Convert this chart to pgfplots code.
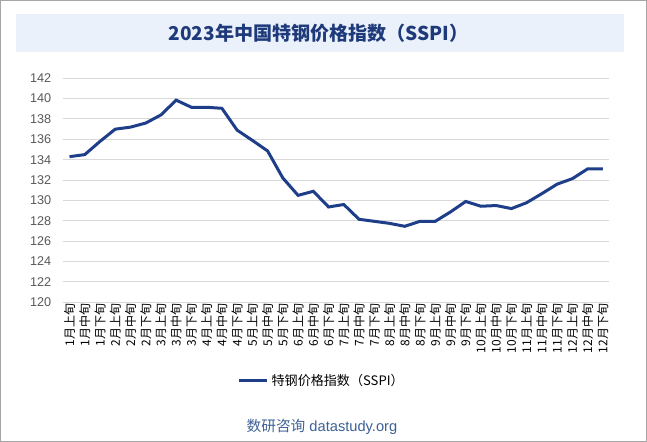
\documentclass[border=0pt]{standalone}
\usepackage{fontspec}
\setmainfont{Liberation Sans}
\newfontfamily\cjk{Noto Sans CJK SC}
\usepackage{pgfplots}
\pgfplotsset{compat=1.18}
\definecolor{linecol}{RGB}{31,62,138}
\definecolor{titlecol}{RGB}{31,58,122}
\definecolor{titlebg}{RGB}{234,241,251}
\definecolor{footcol}{RGB}{62,98,150}
\definecolor{gridcol}{RGB}{217,217,217}
\definecolor{tickcol}{RGB}{89,89,89}
\begin{document}
\begin{tikzpicture}
\path[use as bounding box] (0,0) rectangle (485.25pt,331.5pt);
\fill[white] (0,0) rectangle (485.25pt,331.5pt);
\draw[gray!70, line width=0.75pt] (0.375pt,0.375pt) rectangle (484.875pt,331.125pt);
\fill[titlebg] (12pt,292.5pt) rectangle (468pt,321pt);
\node[text=titlecol, font=\cjk\bfseries\fontsize{14.3pt}{16pt}\selectfont] at (239pt,306.75pt) {2023年中国特钢价格指数（SSPI）};
\node[text=footcol, font=\fontsize{11pt}{13pt}\selectfont] at (241.5pt,11.5pt) {{\cjk 数研咨询} datastudy.org};
\begin{axis}[
  at={(47pt,104.8pt)}, anchor=south west,
  scale only axis, width=409.7pt, height=168pt,
  xmin=-0.45, xmax=35.4, ymin=120, ymax=142,
  ytick={120,122,...,142},
  xtick={0,...,35},
  xticklabels={1月上旬,1月中旬,1月下旬,2月上旬,2月中旬,2月下旬,3月上旬,3月中旬,3月下旬,4月上旬,4月中旬,4月下旬,5月上旬,5月中旬,5月下旬,6月上旬,6月中旬,6月下旬,7月上旬,7月中旬,7月下旬,8月上旬,8月中旬,8月下旬,9月上旬,9月中旬,9月下旬,10月上旬,10月中旬,10月下旬,11月上旬,11月中旬,11月下旬,12月上旬,12月中旬,12月下旬},
  xticklabel style={rotate=90, anchor=east, font=\cjk\fontsize{9pt}{10pt}\selectfont, text=black, inner sep=1pt},
  yticklabel style={font=\fontsize{9.5pt}{11pt}\selectfont, text=tickcol, xshift=-5pt},
  /pgf/number format/assume math mode=true,
  axis line style={draw=none},
  major tick length=0pt,
  ymajorgrids, grid style={gridcol, line width=0.75pt},
  legend style={at={(0.475,-0.351)}, anchor=center, draw=none, fill=none, font=\cjk\fontsize{9.8pt}{11pt}\selectfont, inner sep=0pt},
  legend image code/.code={\draw[#1, line width=2.25pt] (0pt,0pt) -- (21pt,0pt);},
]
\addplot[linecol, line width=2.25pt, mark=none] coordinates {
(0,134.3) (1,134.5) (2,135.8) (3,137.0) (4,137.2) (5,137.6) (6,138.4) (7,139.85) (8,139.15) (9,139.15) (10,139.05) (11,136.9) (12,135.9) (13,134.86) (14,132.2) (15,130.5) (16,130.9) (17,129.36) (18,129.6) (19,128.15) (20,127.95) (21,127.75) (22,127.46) (23,127.95) (24,127.95) (25,128.87) (26,129.9) (27,129.43) (28,129.5) (29,129.2) (30,129.78) (31,130.67) (32,131.6) (33,132.14) (34,133.1) (35,133.1)
};
\addlegendentry{特钢价格指数（SSPI）}
\end{axis}
\end{tikzpicture}
\end{document}
